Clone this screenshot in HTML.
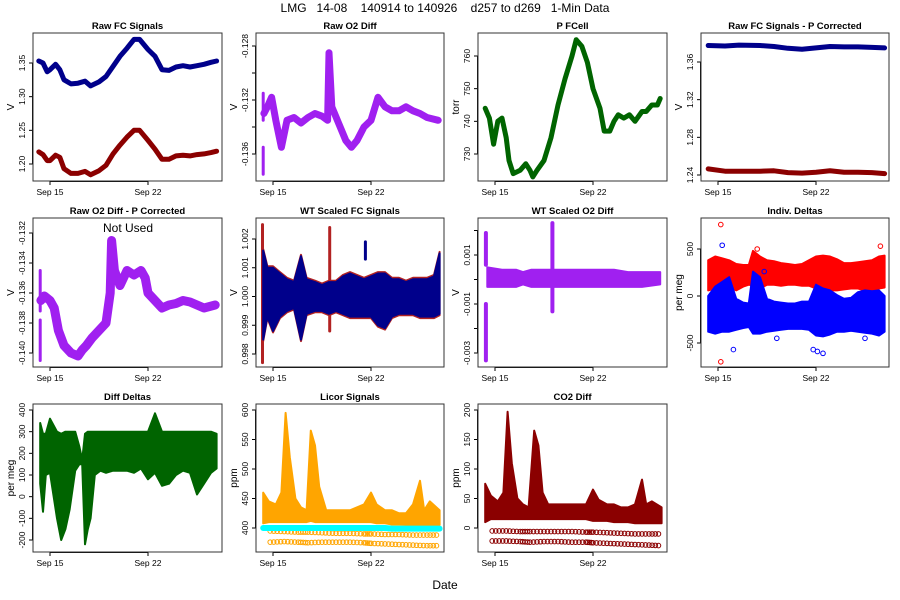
<!DOCTYPE html>
<html><head><meta charset="utf-8"><style>
html,body{margin:0;padding:0;background:#fff;}
svg{display:block;font-family:"Liberation Sans",sans-serif;}
</style></head><body>
<svg id="chart" width="900" height="600" viewBox="0 0 900 600">
<text x="445" y="12" text-anchor="middle" font-size="12" style="white-space:pre" xml:space="preserve">LMG   14-08    140914 to 140926    d257 to d269   1-Min Data</text>
<text x="445" y="589" text-anchor="middle" font-size="12">Date</text>
</svg>
<script>
// ---- data arrays (days in Sept) ----
const fcT   = [14.2,14.5,14.8,15.0,15.4,15.7,16.0,16.5,17.0,17.5,17.9,18.5,19.0,19.5,20.0,20.5,21.0,21.4,22.0,22.5,23.0,23.5,24.0,24.5,25.0,25.5,26.0,26.5,26.9];
const fcBlue= [1.353,1.350,1.337,1.340,1.348,1.340,1.325,1.319,1.320,1.323,1.316,1.322,1.330,1.345,1.360,1.372,1.385,1.385,1.370,1.360,1.340,1.339,1.344,1.346,1.344,1.346,1.348,1.351,1.353];
const fcRed = [1.218,1.214,1.205,1.205,1.213,1.210,1.193,1.186,1.186,1.189,1.184,1.190,1.198,1.215,1.228,1.240,1.250,1.250,1.235,1.222,1.207,1.207,1.212,1.213,1.212,1.214,1.215,1.217,1.219];
const o2T   = [14.35,14.6,14.9,15.2,15.6,16.0,16.5,17.0,17.5,18.0,18.5,18.9,19.0,19.2,19.6,20.2,20.6,21.0,21.5,22.0,22.5,23.0,23.5,24.0,24.5,25.0,25.5,26.0,26.8];
const o2V   = [-0.1330,-0.1325,-0.1318,-0.1335,-0.1355,-0.1335,-0.1333,-0.1337,-0.1333,-0.1330,-0.1332,-0.1335,-0.1285,-0.1325,-0.1335,-0.1350,-0.1355,-0.1350,-0.1340,-0.1335,-0.1318,-0.1325,-0.1328,-0.1328,-0.1325,-0.1328,-0.1330,-0.1333,-0.1335];
const pT    = [14.3,14.6,14.9,15.2,15.5,15.8,16.0,16.3,16.8,17.2,17.5,17.7,18.0,18.5,19.0,19.5,20.0,20.5,20.8,21.2,21.6,22.0,22.5,22.8,23.2,23.5,23.8,24.2,24.6,25.0,25.5,25.8,26.2,26.6,26.8];
const pV    = [744,741,733,740,741,735,728,724,725,727,725,723,725,728,735,745,753,760,765,763,758,750,744,737,737,740,742,741,742,740,743,743,745,745,747];
const pcT   = [14.3,15.5,16.5,18.0,19.0,20.0,21.0,22.0,23.0,24.0,25.0,26.0,26.9];
const pcBlue= [1.3775,1.3770,1.3780,1.3775,1.3765,1.3745,1.3735,1.3750,1.3765,1.3760,1.3760,1.3755,1.3750];
const pcRed = [1.2465,1.2440,1.2440,1.2440,1.2445,1.2425,1.2420,1.2430,1.2445,1.2430,1.2430,1.2425,1.2415];
const o2pT  = [14.35,14.6,15.0,15.3,15.6,16.0,16.5,17.0,17.3,17.6,18.0,18.5,19.0,19.3,19.4,19.6,20.0,20.5,21.0,21.5,21.8,22.0,22.5,23.0,23.5,24.0,24.5,25.0,25.5,26.0,26.8];
const o2pV  = [-0.1365,-0.1362,-0.1365,-0.1370,-0.1385,-0.1395,-0.1400,-0.1402,-0.1398,-0.1395,-0.1390,-0.1385,-0.1380,-0.1360,-0.1325,-0.1345,-0.1355,-0.1345,-0.1348,-0.1345,-0.1350,-0.1360,-0.1365,-0.1370,-0.1368,-0.1367,-0.1365,-0.1366,-0.1368,-0.1370,-0.1368];
const wtT   = [14.3,14.6,15.0,15.5,16.0,16.5,17.0,17.4,18.0,18.5,19.0,19.5,20.0,20.5,21.0,21.5,22.0,22.5,23.0,23.5,24.0,24.5,25.0,25.5,26.0,26.5,26.9];
const wtLo  = [0.9985,0.9993,0.9988,0.9993,0.9995,0.9996,0.9985,0.9994,0.9995,0.9995,0.9994,0.9995,0.9994,0.9993,0.9993,0.9993,0.9993,0.9990,0.9989,0.9993,0.9994,0.9994,0.9994,0.9993,0.9993,0.9993,0.9994];
const wtHi  = [1.0016,1.0010,1.0010,1.0008,1.0006,1.0005,1.0014,1.0006,1.0005,1.0004,1.0005,1.0005,1.0007,1.0008,1.0007,1.0006,1.0007,1.0008,1.0008,1.0006,1.0006,1.0005,1.0006,1.0006,1.0006,1.0007,1.0015];
const wtRedSpikeT = [14.25,19.05];
const wtRedSpikeLo= [0.9977,0.9988];
const wtRedSpikeHi= [1.0025,1.0024];
const wtBlueSpikeT= [21.6];
const wtBlueSpikeLo=[1.0013];
const wtBlueSpikeHi=[1.0019];
const wo2T  = [14.45,15.5,16.5,17.0,17.6,18.5,19.5,20.5,21.5,22.5,23.5,24.5,25.5,26.8];
const wo2Lo = [-0.0003,-0.0003,-0.0003,-0.0002,-0.0003,-0.0003,-0.0003,-0.0003,-0.0003,-0.0003,-0.0003,-0.0003,-0.0003,-0.0002];
const wo2Hi = [0.0005,0.0004,0.0004,0.0003,0.0004,0.0004,0.0004,0.0004,0.0004,0.0004,0.0004,0.0003,0.0003,0.0003];
const wo2SpikeT = [14.35,14.35,19.1];
const wo2SpikeLo= [0.0006,-0.0033,-0.0013];
const wo2SpikeHi= [0.0019,-0.0010,0.0023];
const idT   = [14.3,14.8,15.3,15.8,16.3,16.8,17.2,17.5,18.0,18.5,19.0,19.5,20.0,20.5,21.0,21.5,22.0,22.5,23.0,23.5,24.0,24.5,25.0,25.5,26.0,26.5,26.9];
const idRedLo=[60,80,90,100,60,100,120,110,80,120,120,110,120,120,110,110,80,60,60,60,70,80,80,60,60,80,90];
const idRedHi=[380,420,400,380,340,330,330,480,420,380,370,350,340,330,340,380,420,430,420,390,350,350,360,370,380,420,430];
const idBluLo=[-380,-400,-380,-380,-360,-340,-330,-400,-400,-380,-370,-360,-350,-350,-350,-360,-420,-430,-410,-380,-380,-370,-380,-390,-400,-420,-380];
const idBluHi=[0,100,150,200,-30,-70,-80,260,200,-30,-60,-70,-80,-80,-60,-60,120,80,60,10,-30,-20,40,60,50,60,0];
const idOutT = [15.2,15.3,15.2,17.8,18.3,21.8,22.1,22.5,16.1,26.6,25.5,19.2];
const idOutV = [760,540,-700,500,260,-570,-590,-610,-570,530,-450,-450];
const idOutC = ["red","blue","red","red","blue","blue","blue","blue","blue","red","blue","blue"];
const ddT   = [14.3,14.5,14.7,15.0,15.5,15.8,16.1,16.4,16.8,17.1,17.3,17.5,17.7,17.9,18.2,18.6,19.0,19.5,20.0,20.5,21.0,21.5,22.0,22.5,23.0,23.5,24.0,24.5,25.0,25.5,26.0,26.5,26.9];
const ddLo  = [60,-70,100,110,-100,-200,-150,-60,120,150,150,-220,-150,-100,100,120,110,120,120,120,110,130,80,110,50,60,100,120,110,10,60,110,130];
const ddHi  = [340,290,290,360,300,290,300,300,300,230,170,290,300,300,300,300,300,300,300,300,300,300,300,385,300,300,300,300,300,300,300,300,290];
const liT   = [14.3,14.7,15.2,15.6,15.9,16.2,16.6,17.0,17.4,17.7,18.0,18.3,18.8,19.5,20.5,21.5,22.0,22.4,23.0,23.5,24.0,24.5,25.0,25.5,25.8,26.2,26.9];
const liLo  = [408,410,410,410,410,410,410,410,410,412,410,410,410,410,410,410,410,408,408,406,406,405,405,405,405,405,405];
const liHi  = [460,445,440,460,595,520,450,435,430,565,540,470,430,430,430,440,460,440,430,430,425,425,440,480,430,445,430];
const liCyan= [400,400,400,400,400,400,400,400,400,400,400,400,400,400,400,400,400,400,400,399,399,399,399,399,399,399,399];
const liRowT= [14.8,15.8,16.8,17.5,18.5,19.5,20.5,21.5,22.0,23.0,24.0,25.0,26.0,26.9];
const liRowA= [376,377,376,375,376,376,376,375,374,373,372,371,370,370];
const liRowB= [395,394,393,393,392,391,391,390,390,389,389,388,388,388];
const coT   = [14.3,14.7,15.2,15.6,15.9,16.2,16.6,17.0,17.4,17.8,18.1,18.4,18.8,19.5,20.5,21.5,22.0,22.4,23.0,23.5,24.0,24.5,25.0,25.5,25.8,26.2,26.9];
const coLo  = [10,15,15,15,15,15,15,15,15,15,15,15,15,15,15,15,12,12,12,10,10,10,8,8,8,8,8];
const coHi  = [75,55,45,60,197,110,50,40,35,165,140,60,40,40,40,40,65,48,40,40,35,35,40,82,40,45,35];
const coRowA= [-22,-22,-23,-24,-23,-23,-24,-24,-25,-26,-27,-28,-29,-30];
const coRowB= [-5,-5,-6,-6,-6,-6,-6,-7,-7,-8,-9,-10,-10,-10];
// ---- panels ----
const panels = [
 {id:"raw-fc-signals",title:"Raw FC Signals",x:33,y:33,w:189,h:148,ref:[1.20,164,1.35,63],ticks:[1.20,1.25,1.30,1.35],lab:["1.20","1.25","1.30","1.35"],yl:"V"},
 {id:"raw-o2-diff",title:"Raw O2 Diff",x:256,y:33,w:188,h:148,ref:[-0.136,154,-0.128,46],ticks:[-0.136,-0.134,-0.132,-0.130,-0.128],lab:["-0.136","","-0.132","","-0.128"],yl:"V"},
 {id:"p-fcell",title:"P FCell",x:478,y:33,w:189,h:148,ref:[730,154,760,56],ticks:[730,740,750,760],lab:["730","740","750","760"],yl:"torr"},
 {id:"raw-fc-p-corrected",title:"Raw FC Signals - P Corrected",x:701,y:33,w:188,h:148,ref:[1.24,175,1.36,62],ticks:[1.24,1.28,1.32,1.36],lab:["1.24","1.28","1.32","1.36"],yl:"V"},
 {id:"raw-o2-p-corrected",title:"Raw O2 Diff - P Corrected",x:33,y:218,w:189,h:149,ref:[-0.140,353,-0.132,233],ticks:[-0.140,-0.138,-0.136,-0.134,-0.132],lab:["-0.140","-0.138","-0.136","-0.134","-0.132"],yl:"V"},
 {id:"wt-scaled-fc",title:"WT Scaled FC Signals",x:256,y:218,w:188,h:149,ref:[0.998,354,1.002,239],ticks:[0.998,0.999,1.000,1.001,1.002],lab:["0.998","0.999","1.000","1.001","1.002"],yl:"V"},
 {id:"wt-scaled-o2",title:"WT Scaled O2 Diff",x:478,y:218,w:189,h:149,ref:[-0.003,353,0.001,255],ticks:[-0.003,-0.002,-0.001,0,0.001,0.002],lab:["-0.003","","-0.001","","0.001",""],yl:"V"},
 {id:"indiv-deltas",title:"Indiv. Deltas",x:701,y:218,w:188,h:149,ref:[-500,343,500,249],ticks:[-500,0,500],lab:["-500","0","500"],yl:"per meg"},
 {id:"diff-deltas",title:"Diff Deltas",x:33,y:404,w:189,h:148,ref:[-200,540,400,410],ticks:[-200,-100,0,100,200,300,400],lab:["-200","-100","0","100","200","300","400"],yl:"per meg"},
 {id:"licor-signals",title:"Licor Signals",x:256,y:404,w:188,h:148,ref:[400,528,600,410],ticks:[400,450,500,550,600],lab:["400","450","500","550","600"],yl:"ppm"},
 {id:"co2-diff",title:"CO2 Diff",x:478,y:404,w:189,h:148,ref:[0,528,200,410],ticks:[0,50,100,150,200],lab:["0","50","100","150","200"],yl:"ppm"}
];
const NS="http://www.w3.org/2000/svg";
const svg=document.getElementById('chart');
function mk(tag,attrs,parent){const e=document.createElementNS(NS,tag);for(const k in attrs)e.setAttribute(k,attrs[k]);(parent||svg).appendChild(e);return e;}
function sx(p,d){return p.x+17+(d-15)*14;}
function sy(p,v){const r=p.ref;return r[1]+(v-r[0])*(r[3]-r[1])/(r[2]-r[0]);}
function line(p,g,T,V,col,w,name){const pts=T.map((t,i)=>sx(p,t).toFixed(1)+','+sy(p,V[i]).toFixed(1)).join(' ');
 const e=mk('polyline',{points:pts,fill:'none',stroke:col,'stroke-width':w,'stroke-linejoin':'round','stroke-linecap':'round'},g);
 
 }
function band(p,g,T,L,H,col,name,op){const a=T.map((t,i)=>sx(p,t).toFixed(1)+','+sy(p,H[i]).toFixed(1));
 const b=T.map((t,i)=>sx(p,t).toFixed(1)+','+sy(p,L[i]).toFixed(1)).reverse();
 const e=mk('polygon',{points:a.concat(b).join(' '),fill:col,stroke:col,'stroke-width':2,'stroke-linejoin':'round','fill-opacity':op||1},g);
 
 }
function vseg(p,g,T,L,H,col,name,w){T.forEach((t,i)=>{const e=mk('line',{x1:sx(p,t),x2:sx(p,t),y1:sy(p,L[i]),y2:sy(p,H[i]),stroke:col,'stroke-width':w||3,'stroke-linecap':'round'},g);
 
 });}
function pts(p,g,T,V,col,name){T.forEach((t,i)=>{const e=mk('circle',{cx:sx(p,t),cy:sy(p,V[i]),r:2.3,fill:'none',stroke:Array.isArray(col)?col[i]:col,'stroke-width':1},g);
 
 });}
function rowPts(p,g,T,V,col,name){for(let i=0;i<T.length-1;i++){for(let k=0;k<4;k++){const f=k/4;const t=T[i]+(T[i+1]-T[i])*f;const v=V[i]+(V[i+1]-V[i])*f;
 const e=mk('circle',{cx:sx(p,t),cy:sy(p,v),r:2.3,fill:'none',stroke:col,'stroke-width':1},g);
 
 }}}
panels.forEach((p,idx)=>{
 const g=mk('g',{});
 
 
 const cp=mk('clipPath',{id:'c'+idx},g);mk('rect',{x:p.x,y:p.y,width:p.w,height:p.h},cp);
 const d=mk('g',{'clip-path':'url(#c'+idx+')'},g);
 
 
 const t=mk('text',{x:p.x+p.w/2,y:p.y-4,'text-anchor':'middle','font-size':'9.5','font-weight':'bold'},g);t.textContent=p.title;
 
 
 const xa=mk('g',{},g);
 
 
 mk('line',{x1:sx(p,15),x2:sx(p,22),y1:p.y+p.h+0.5,y2:p.y+p.h+0.5,stroke:'#000'},xa);
 [[15,'Sep 15'],[22,'Sep 22']].forEach(([dd,l])=>{mk('line',{x1:sx(p,dd),x2:sx(p,dd),y1:p.y+p.h,y2:p.y+p.h+4,stroke:'#000'},xa);
  const tt=mk('text',{x:sx(p,dd),y:p.y+p.h+14,'text-anchor':'middle','font-size':'8.5'},xa);tt.textContent=l;});
 const ya=mk('g',{},g);
 
 
 const y0=sy(p,p.ticks[0]),y1=sy(p,p.ticks[p.ticks.length-1]);
 mk('line',{x1:p.x-0.5,x2:p.x-0.5,y1:y0,y2:y1,stroke:'#000'},ya);
 p.ticks.forEach((v,i)=>{const yy=sy(p,v);mk('line',{x1:p.x-4,x2:p.x,y1:yy,y2:yy,stroke:'#000'},ya);
  if(p.lab[i]){const tt=mk('text',{x:p.x-8,y:yy,'text-anchor':'middle','font-size':'8.5',transform:'rotate(-90 '+(p.x-8)+' '+yy+')'},ya);tt.textContent=p.lab[i];}});
 const yt=mk('text',{x:p.x-19,y:p.y+p.h/2,'text-anchor':'middle','font-size':'10',transform:'rotate(-90 '+(p.x-19)+' '+(p.y+p.h/2)+')'},g);yt.textContent=p.yl;
 
 
 if(idx==0){line(p,d,fcT,fcBlue,'#00008b',5,'series-blue');line(p,d,fcT,fcRed,'#8b0000',5,'series-red');}
 if(idx==1){line(p,d,o2T,o2V,'#a020f0',7,'series-o2');vseg(p,d,[14.3,14.3],[-0.1375,-0.1335],[-0.1355,-0.1315],'#a020f0','spike',3);}
 if(idx==2){line(p,d,pT,pV,'#006400',5,'series-pressure');}
 if(idx==3){line(p,d,pcT,pcBlue,'#00008b',5,'series-blue');line(p,d,pcT,pcRed,'#8b0000',5,'series-red');}
 if(idx==4){line(p,d,o2pT,o2pV,'#a020f0',9,'series-o2');vseg(p,d,[14.3,14.3],[-0.1405,-0.1372],[-0.1378,-0.1345],'#a020f0','spike',3);
  const nu=mk('text',{x:128,y:232,'text-anchor':'middle','font-size':'12'},g);nu.textContent='Not Used';
  
  }
 if(idx==5){vseg(p,d,wtRedSpikeT,wtRedSpikeLo,wtRedSpikeHi,'#b22222','red-spike',3);band(p,d,wtT,wtLo.map(v=>v-0.00005),wtHi.map(v=>v+0.00005),'#b22222','series-red');band(p,d,wtT,wtLo,wtHi,'#00008b','series-blue');vseg(p,d,wtBlueSpikeT,wtBlueSpikeLo,wtBlueSpikeHi,'#00008b','blue-spike',3);}
 if(idx==6){band(p,d,wo2T,wo2Lo,wo2Hi,'#a020f0','series-o2');vseg(p,d,wo2SpikeT,wo2SpikeLo,wo2SpikeHi,'#a020f0','spike',4);}
 if(idx==7){band(p,d,idT,idRedLo,idRedHi,'#ff0000','series-red');band(p,d,idT,idBluLo,idBluHi,'#0000ff','series-blue');pts(p,d,idOutT,idOutV,idOutC,'outlier');}
 if(idx==8){band(p,d,ddT,ddLo,ddHi,'#006400','series-diff-deltas');}
 if(idx==9){rowPts(p,d,liRowT,liRowA,'#ffa500','row-low');rowPts(p,d,liRowT,liRowB,'#ffa500','row-mid');band(p,d,liT,liLo,liHi,'#ffa500','series-licor');line(p,d,liT,liCyan,'#00ffff',6,'series-reference');}
 if(idx==10){rowPts(p,d,liRowT,coRowA,'#8b0000','row-low');rowPts(p,d,liRowT,coRowB,'#8b0000','row-mid');band(p,d,coT,coLo,coHi,'#8b0000','series-co2');}
 const bx=mk('rect',{x:p.x,y:p.y,width:p.w,height:p.h,fill:'none',stroke:'#333','stroke-width':1},g);
 
 
});
</script>
</body></html>
